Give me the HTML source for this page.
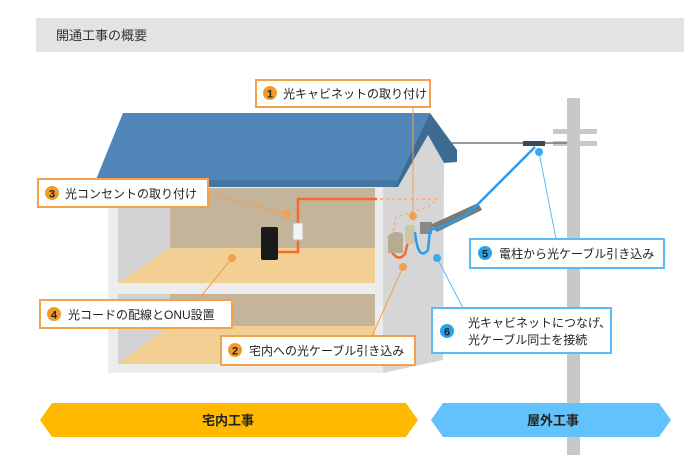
<!DOCTYPE html>
<html><head><meta charset="utf-8"><style>
body{margin:0;background:#fff;width:700px;height:455px;overflow:hidden;font-family:"Liberation Sans","Noto Sans CJK JP",sans-serif}
svg{display:block}
text{font-family:"Liberation Sans","Noto Sans CJK JP",sans-serif}
</style></head><body>
<svg width="700" height="455" viewBox="0 0 700 455" xmlns="http://www.w3.org/2000/svg">
<rect x="36" y="18" width="648" height="34" fill="#e3e3e3"/>
<text x="56" y="40" font-size="13" fill="#333">開通工事の概要</text>

<!-- pole -->
<rect x="567" y="98" width="13" height="357" fill="#c8c8c8"/>
<rect x="553" y="129" width="44" height="5" fill="#c8c8c8"/>
<rect x="553" y="141" width="44" height="5" fill="#c8c8c8"/>
<line x1="450" y1="143" x2="567" y2="143" stroke="#777" stroke-width="1.5"/>
<rect x="523" y="141" width="22" height="5" fill="#3a4a5a"/>

<!-- side wall -->
<polygon points="398,187 428,135 444,163 443,360 383,373 383,187" fill="#d6d6d6"/>
<!-- front frame -->
<rect x="108" y="185" width="275" height="188" fill="#ececec"/>
<!-- upper room -->
<rect x="118" y="188" width="257" height="95" fill="#d2d2d2"/>
<rect x="170" y="188" width="205" height="60" fill="#c4b49a"/>
<polygon points="170,248 375,248 375,283 118,283" fill="#f2cf92"/>
<!-- lower room -->
<rect x="118" y="294" width="257" height="70" fill="#d2d2d2"/>
<rect x="170" y="294" width="205" height="32" fill="#c4b49a"/>
<polygon points="170,326 375,326 375,364 118,364" fill="#f2cf92"/>

<!-- roof -->
<polygon points="123,113 430,113 398,187 93,187" fill="#5186b8"/>
<polygon points="430,113 457,150 457,162 444,163 428,135 398,187 395,187" fill="#3e6b91"/>
<polygon points="93,180 398,180 395,187 93,187" fill="#3e6b91" opacity="0.6"/>

<!-- indoor cables -->
<polyline points="377,199 298,199 298,252 277,252" fill="none" stroke="#f26a2e" stroke-width="2.5"/>
<rect x="293" y="223" width="10" height="17" fill="#f4f4f4" stroke="#bbb"/>
<rect x="261" y="227" width="17" height="33" rx="2" fill="#1a1a1a"/>
<polyline points="380,199 437,199 428,207 396,217 393,233" fill="none" stroke="#f6b38a" stroke-width="2" stroke-dasharray="3,3"/>
<!-- cabinets -->
<path d="M392,252 Q398,262 405,254 L408,242" fill="none" stroke="#f26a2e" stroke-width="2.5"/>
<path d="M388,236 Q395,229 403,234 L403,253 L388,253Z" fill="#b5ac92"/>
<rect x="405" y="225" width="10" height="19" rx="3" fill="#cdc5a8"/>
<rect x="420" y="222" width="12" height="12" fill="#888"/>
<polygon points="430,225 478,203 482,210 437,232" fill="#7a7a7a"/>
<path d="M415,232 Q418,262 428,250 L430,230 Q450,225 470,212 L535,147" fill="none" stroke="#2a9de8" stroke-width="2.5"/>

<!-- leaders -->
<g stroke="#f5a04a" stroke-width="1">
<line x1="413" y1="107" x2="413" y2="215"/>
<line x1="207" y1="193" x2="287" y2="214"/>
<line x1="198" y1="300" x2="232" y2="258"/>
<line x1="372" y1="336" x2="403" y2="267"/>
</g>
<g fill="#f5a04a"><circle cx="413" cy="216" r="4"/><circle cx="287" cy="214" r="4"/><circle cx="232" cy="258" r="4"/><circle cx="403" cy="267" r="4"/></g>
<g stroke="#5bbcf5" stroke-width="1">
<line x1="539" y1="152" x2="556" y2="239"/>
<line x1="437" y1="258" x2="463" y2="308"/>
</g>
<g fill="#3aaaf0"><circle cx="539" cy="152" r="4"/><circle cx="437" cy="258" r="4"/></g>

<!-- labels -->
<g font-size="12" fill="#222">
<rect x="256" y="80" width="174" height="27" fill="#fff" stroke="#f5a04a" stroke-width="2"/>
<circle cx="270" cy="93" r="7" fill="#f39a2b"/><text x="270" y="97.5" font-size="11" font-weight="bold" fill="#222" text-anchor="middle">1</text>
<text x="283" y="98">光キャビネットの取り付け</text>

<rect x="38" y="179" width="170" height="28" fill="#fff" stroke="#f5a04a" stroke-width="2"/>
<circle cx="52" cy="193" r="7" fill="#f39a2b"/><text x="52" y="197.5" font-size="11" font-weight="bold" text-anchor="middle">3</text>
<text x="65" y="198">光コンセントの取り付け</text>

<rect x="40" y="300" width="192" height="28" fill="#fff" stroke="#f5a04a" stroke-width="2"/>
<circle cx="54" cy="314" r="7" fill="#f39a2b"/><text x="54" y="318.5" font-size="11" font-weight="bold" text-anchor="middle">4</text>
<text x="68" y="319">光コードの配線とONU設置</text>

<rect x="221" y="336" width="194" height="29" fill="#fff" stroke="#f5a04a" stroke-width="2"/>
<circle cx="235" cy="350" r="7" fill="#f39a2b"/><text x="235" y="354.5" font-size="11" font-weight="bold" text-anchor="middle">2</text>
<text x="249" y="355">宅内への光ケーブル引き込み</text>

<rect x="470" y="239" width="194" height="29" fill="#fff" stroke="#5bbcf5" stroke-width="2"/>
<circle cx="485" cy="253" r="7" fill="#2aa3e8"/><text x="485" y="257.5" font-size="11" font-weight="bold" text-anchor="middle">5</text>
<text x="499" y="258">電柱から光ケーブル引き込み</text>

<rect x="432" y="308" width="179" height="45" fill="#fff" stroke="#5bbcf5" stroke-width="2"/>
<circle cx="447" cy="331" r="7" fill="#2aa3e8"/><text x="447" y="335.5" font-size="11" font-weight="bold" text-anchor="middle">6</text>
<text x="468" y="327">光キャビネットにつなげ、</text>
<text x="468" y="344">光ケーブル同士を接続</text>
</g>

<!-- bottom arrows -->
<polygon points="52,403 406,403 418,420 406,437 52,437 40,420" fill="#ffb900"/>
<text x="228" y="425" font-size="13" font-weight="bold" fill="#222" text-anchor="middle">宅内工事</text>
<polygon points="443,403 659,403 671,420 659,437 443,437 431,420" fill="#62c2fc"/>
<text x="553" y="425" font-size="13" font-weight="bold" fill="#222" text-anchor="middle">屋外工事</text>
</svg>
</body></html>
